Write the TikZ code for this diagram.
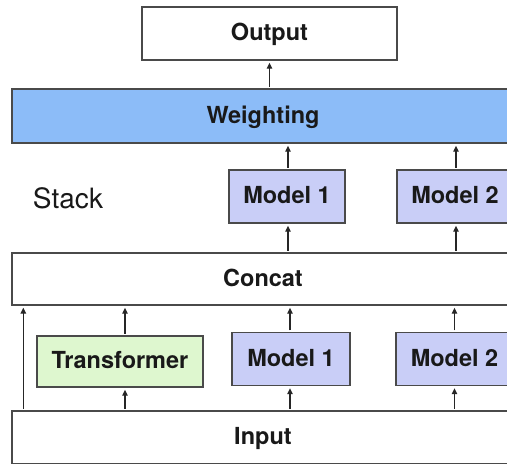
\documentclass[tikz,border=0pt]{standalone}
\usepackage{fontspec}
\setmainfont{TeX Gyre Heros}
\usetikzlibrary{arrows.meta}
\definecolor{bordc}{HTML}{4A4A4A}
\definecolor{weightc}{HTML}{8CBCF8}
\definecolor{modelc}{HTML}{C9CEF7}
\definecolor{transc}{HTML}{DEF7CF}
\tikzset{
  box/.style={draw=bordc, line width=1.4pt, inner sep=0pt, rectangle,
    text height=17pt, text depth=3pt,
    font=\fontsize{23.5}{28}\selectfont\bfseries, text=black!90},
  widebox/.style={box, minimum width=502pt, minimum height=53pt},
  modelbox/.style={box, fill=modelc, minimum width=116pt, minimum height=53pt},
  flow/.style={draw=black!85, line width=1.4pt, -{Triangle[length=6pt,width=5.5pt]},
    shorten >=2pt, shorten <=1.5pt},
}
\begin{document}
\begin{tikzpicture}[x=1pt,y=-1pt]
\useasboundingbox (0,0) rectangle (507,464);
\clip (0,0) rectangle (507,464);
% boxes
\node[box, minimum width=255pt, minimum height=53pt] (out) at (269.5,33.5) {Output};
\node[widebox, fill=weightc, minimum height=54pt] (weight) at (263,116) {Weighting};
\node[widebox, minimum height=52pt] (concat) at (263,279) {Concat};
\node[widebox] (input) at (263,437.5) {Input};
\node[font=\fontsize{28}{32}\selectfont, text=black!90] (stack) at (68,198) {Stack};
\node[modelbox] (sm1) at (287,196.5) {Model 1};
\node[modelbox] (sm2) at (455,196.5) {Model 2};
\node[box, fill=transc, minimum width=166pt, minimum height=51pt] (trans) at (120,361.5) {Transformer};
\node[modelbox, minimum width=118pt] (bm1) at (291,359) {Model 1};
\node[modelbox, minimum width=117pt] (bm2) at (454.5,359) {Model 2};
% connectors
\draw[flow] (out.south |- weight.north) -- (out.south);
\draw[flow] ([xshift=1pt]sm1.north) -- ([xshift=1pt]sm1.north |- weight.south);
\draw[flow] ([xshift=1pt]sm2.north) -- ([xshift=1pt]sm2.north |- weight.south);
\draw[flow] ([xshift=1pt]sm1.south |- concat.north) -- ([xshift=1pt]sm1.south);
\draw[flow] ([xshift=1pt]sm2.south |- concat.north) -- ([xshift=1pt]sm2.south);
\draw[flow] ([xshift=5pt]trans.north) -- ([xshift=5pt]trans.north |- concat.south);
\draw[flow] ([xshift=-1pt]bm1.north) -- ([xshift=-1pt]bm1.north |- concat.south);
\draw[flow] (bm2.north) -- (bm2.north |- concat.south);
\draw[flow] ([xshift=5pt]trans.south |- input.north) -- ([xshift=5pt]trans.south);
\draw[flow] ([xshift=-1pt]bm1.south |- input.north) -- ([xshift=-1pt]bm1.south);
\draw[flow] (bm2.south |- input.north) -- (bm2.south);
\coordinate (leftfoot) at ([xshift=12pt]input.north west);
\draw[flow] (leftfoot) -- (leftfoot |- concat.south);
\end{tikzpicture}
\end{document}
